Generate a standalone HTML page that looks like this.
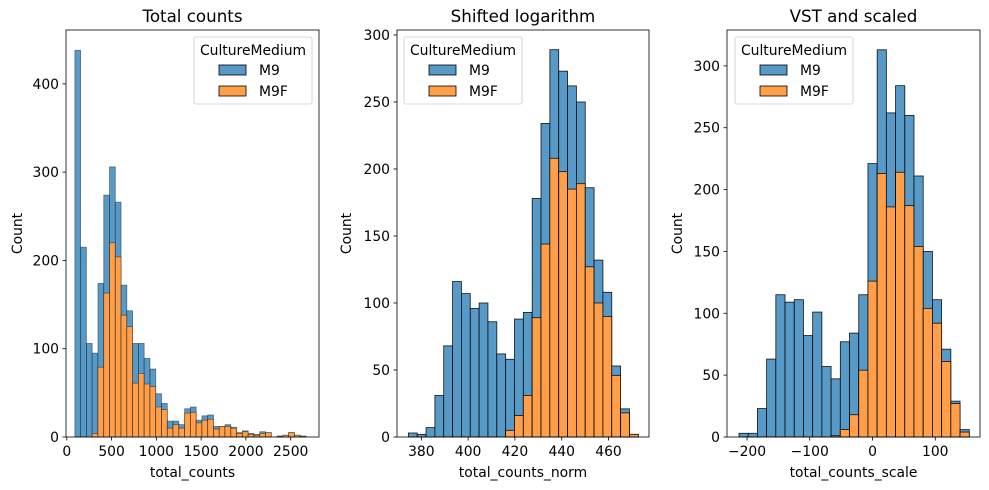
<!DOCTYPE html>
<html><head><meta charset="utf-8">
<style>
body{margin:0;background:#fff;}
svg{display:block;font-family:"DejaVu Sans","Liberation Sans",sans-serif;}
</style></head>
<body>
<svg id="fig" width="989" height="490" viewBox="0 0 989 490" xmlns="http://www.w3.org/2000/svg"></svg>
<script>
// Panel 1: Total counts
const p1Start = 90, p1Width = 64.5;
const p1Total = [438,215,106,95,174,274,306,266,172,143,106,106,89,77,49,38,18,18,14,32,34,19,24,25,12,12,14,11,5,7,4,3,6,5,0,1,2,5,2,1];
const p1M9F   = [0,0,0,4,79,163,220,204,138,125,61,72,60,57,34,31,10,14,10,27,28,16,19,20,9,12,12,10,4,6,3,2,4,5,0,1,2,5,2,1];
const p1XTicks = [0,500,1000,1500,2000,2500];
const p1YTicks = [0,100,200,300,400];
// Panel 2: Shifted logarithm
const p2Start = 374.45, p2Width = 3.78;
const p2Total = [3,2,7,31,68,116,107,96,100,86,62,58,88,93,178,234,289,273,262,250,186,132,108,53,21,2];
const p2M9F   = [0,0,0,0,0,0,0,0,0,0,0,5,16,31,89,144,208,198,185,189,127,100,90,46,18,2];
const p2XTicks = [380,400,420,440,460];
const p2YTicks = [0,50,100,150,200,250,300];
// Panel 3: VST and scaled
const p3Start = -212.8, p3Width = 14.68;
const p3Total = [3,3,23,63,115,109,111,82,101,57,47,77,84,115,221,313,262,284,260,211,150,111,71,29,6];
const p3M9F   = [0,0,0,0,0,0,0,0,0,0,1,6,18,54,126,213,186,214,187,154,104,92,61,27,4];
const p3XTicks = [-200,-100,0,100];
const p3YTicks = [0,50,100,150,200,250,300];

const NS="http://www.w3.org/2000/svg";
const svg=document.getElementById('fig');
function mk(tag,attrs,parent){const e=document.createElementNS(NS,tag);for(const k in attrs)e.setAttribute(k,attrs[k]);(parent||svg).appendChild(e);return e;}

function panel(cfg){
  const g=mk('g',{});
  
  
  const {L,R,T,B,xmin,xmax,ymax}=cfg;
  const sx=v=>L+(v-xmin)/(xmax-xmin)*(R-L);
  const sy=v=>B-v/ymax*(B-T);
  const ew=cfg.edgeW, eo=cfg.edgeO;
  cfg.total.forEach((t,i)=>{
    const x0=sx(cfg.start+i*cfg.width), x1=sx(cfg.start+(i+1)*cfg.width);
    if(t>0){
      const b=mk('rect',{x:x0,y:sy(t),width:x1-x0,height:B-sy(t),fill:'#5799c7',stroke:'#000','stroke-width':ew,'stroke-opacity':eo},g);
      
      
    }
    const m=cfg.m9f[i];
    if(m>0){
      const o=mk('rect',{x:x0,y:sy(m),width:x1-x0,height:B-sy(m),fill:'#ff9f4a',stroke:'#000','stroke-width':ew,'stroke-opacity':eo},g);
      
      
    }
  });
  mk('rect',{x:L,y:T,width:R-L,height:B-T,fill:'none',stroke:'#000','stroke-width':0.8},g);
  cfg.xt.forEach(v=>{
    const x=sx(v);
    mk('line',{x1:x,x2:x,y1:B,y2:B+3.5,stroke:'#000','stroke-width':0.8},g);
    const t=mk('text',{x:x,y:B+19,'font-size':13.9,'text-anchor':'middle'},g);
    t.textContent=v<0?'\u2212'+(-v):String(v);
    
    
  });
  cfg.yt.forEach(v=>{
    const y=sy(v);
    mk('line',{x1:L-3.5,x2:L,y1:y,y2:y,stroke:'#000','stroke-width':0.8},g);
    const t=mk('text',{x:L-7,y:y+5,'font-size':13.9,'text-anchor':'end'},g);
    t.textContent=String(v);
    
    
  });
  const tt=mk('text',{x:(L+R)/2,y:22,'font-size':16.7,'text-anchor':'middle'},g);
  tt.textContent=cfg.title;
  
  
  const xl=mk('text',{x:(L+R)/2,y:B+40,'font-size':13.9,'text-anchor':'middle'},g);
  xl.textContent=cfg.xlabel;
  
  
  const yl=mk('text',{x:0,y:0,'font-size':13.9,'text-anchor':'middle',transform:`translate(${cfg.ylx},${(T+B)/2}) rotate(-90)`},g);
  yl.textContent='Count';
  
  
  // legend
  const lg=mk('g',{},g);
  
  
  const lx=cfg.legX, ly=37;
  mk('rect',{x:lx,y:ly,width:118,height:67,rx:2,fill:'#fff','fill-opacity':0.8,stroke:'#ccc','stroke-width':0.8},lg);
  const lt=mk('text',{x:lx+59,y:ly+18,'font-size':13.9,'text-anchor':'middle'},lg);
  lt.textContent='CultureMedium';
  [['M9','#5799c7',ly+28],['M9F','#ff9f4a',ly+49]].forEach(([n,c,yy])=>{
    const e=mk('g',{},lg);
    
    
    mk('rect',{x:lx+25,y:yy,width:27,height:10,fill:c,stroke:'#000','stroke-width':0.8},e);
    const tx=mk('text',{x:lx+65,y:yy+10,'font-size':13.9},e);
    tx.textContent=n;
  });
}
panel({name:'panel-total-counts',L:66,R:319,T:30,B:437,xmin:-9,xmax:2816,ymax:461,start:p1Start,width:p1Width,total:p1Total,m9f:p1M9F,xt:p1XTicks,yt:p1YTicks,title:'Total counts',xlabel:'total_counts',ylx:22,legX:194,edgeW:0.8,edgeO:0.45});
panel({name:'panel-shifted-log',L:397,R:649,T:30,B:437,xmin:369.6,xmax:477.3,ymax:303.7,start:p2Start,width:p2Width,total:p2Total,m9f:p2M9F,xt:p2XTicks,yt:p2YTicks,title:'Shifted logarithm',xlabel:'total_counts_norm',ylx:351,legX:404,edgeW:0.8,edgeO:0.9});
panel({name:'panel-vst-scaled',L:727,R:980,T:30,B:437,xmin:-231.9,xmax:171.3,ymax:329,start:p3Start,width:p3Width,total:p3Total,m9f:p3M9F,xt:p3XTicks,yt:p3YTicks,title:'VST and scaled',xlabel:'total_counts_scale',ylx:682,legX:735,edgeW:0.8,edgeO:0.9});
</script>
</body></html>
